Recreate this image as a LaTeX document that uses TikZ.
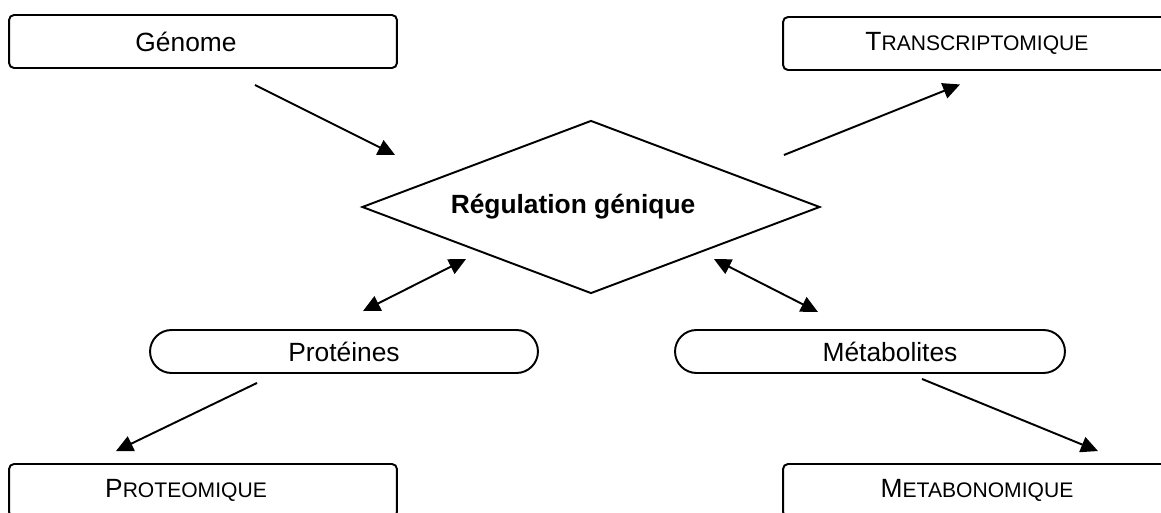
\documentclass[tikz,border=0pt]{standalone}
\usepackage{fontspec}
\setmainfont{Liberation Sans}
\usetikzlibrary{arrows.meta,shapes.geometric,shapes.misc}

%% capital + smaller capitals, as the word processor draws them
\newcommand{\fakesc}[2]{#1{\fontsize{12pt}{14pt}\selectfont #2}}
%% move a text sideways inside its frame
\newcommand{\nudge}[2]{\hspace*{#1}#2}

\begin{document}
\begin{tikzpicture}[x=0.02cm, y=-0.02cm, line width=1.1pt,
    font=\fontsize{15pt}{18pt}\selectfont,
    omicbox/.style={draw, rounded corners=0.1cm, minimum width=7.76cm,
      minimum height=1.06cm, inner sep=0pt},
    molpill/.style={draw, rounded rectangle, minimum width=7.76cm,
      minimum height=0.86cm, inner sep=0pt},
    regdiamond/.style={draw, diamond, aspect=2.65, minimum width=9.16cm,
      minimum height=3.46cm, inner sep=0pt,
      font=\fontsize{15pt}{18pt}\selectfont\bfseries},
    link/.style={-{Triangle[length=0.34cm,width=0.32cm]}},
    duplex/.style={{Triangle[length=0.34cm,width=0.32cm]}-{Triangle[length=0.34cm,width=0.32cm]}}]

  \clip (0,0) rectangle (1161,513);

  %% frames
  \node[omicbox] (genome) at (203,41.5) {\nudge{-0.68cm}{Génome}};
  \node[omicbox] (transcripto) at (977,43.5) {\fakesc{T}{RANSCRIPTOMIQUE}};
  \node[regdiamond] (regulation) at (591,207) {\nudge{-0.72cm}{Régulation génique}};
  \node[molpill] (proteines) at (344,351.5) {Protéines};
  \node[molpill, minimum width=7.8cm] (metabolites) at (870,351.5)
       {\nudge{0.8cm}{Métabolites}};
  \node[omicbox] (proteo) at (203,490.5) {\nudge{-0.68cm}{\fakesc{P}{ROTEOMIQUE}}};
  \node[omicbox] (metabo) at (977,490.5) {\fakesc{M}{ETABONOMIQUE}};

  %% free ends of the arrows
  \coordinate (genome out) at ([shift={(52,16)}]genome.south);
  \coordinate (reg in)     at ([shift={(34,-52)}]regulation.west);
  \coordinate (reg out)    at ([shift={(-37,-52)}]regulation.east);
  \coordinate (trans in)   at ([shift={(-17,13.5)}]transcripto.south);
  \coordinate (prot up)    at ([shift={(19,-18)}]proteines.north);
  \coordinate (reg left)   at ([shift={(105,52)}]regulation.west);
  \coordinate (reg right)  at ([shift={(-107,52)}]regulation.east);
  \coordinate (metab up)   at ([shift={(-52,-17)}]metabolites.north);
  \coordinate (prot out)   at ([shift={(-87,9)}]proteines.south);
  \coordinate (proteo in)  at ([shift={(-87,-12)}]proteo.north);
  \coordinate (metab out)  at ([shift={(52,5)}]metabolites.south);
  \coordinate (metabo in)  at ([shift={(121,-12)}]metabo.north);

  %% arrows
  \draw[link] (genome out) -- (reg in);
  \draw[link] (reg out) -- (trans in);
  \draw[duplex] (prot up) -- (reg left);
  \draw[duplex] (reg right) -- (metab up);
  \draw[link] (prot out) -- (proteo in);
  \draw[link] (metab out) -- (metabo in);

\end{tikzpicture}
\end{document}
